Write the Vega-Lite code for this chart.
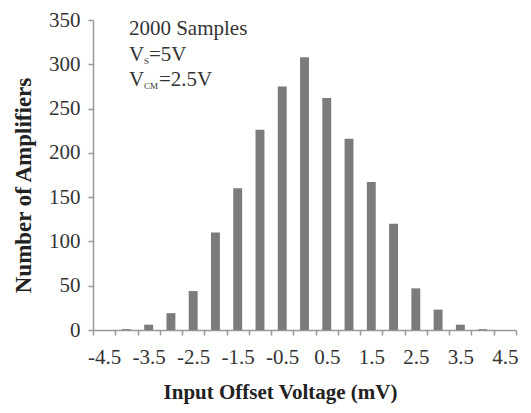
{
  "$schema": "https://vega.github.io/schema/vega-lite/v6.json",
  "width": 423,
  "height": 310,
  "autosize": {"type": "none"},
  "padding": {"left": 93, "top": 20, "right": 15, "bottom": 83},
  "background": "white",
  "config": {"view": {"stroke": null}, "font": "Liberation Serif"},
  "layer": [
    {
      "data": {"values": [
        {"v": -4.5, "n": 0}, {"v": -4, "n": 1}, {"v": -3.5, "n": 6}, {"v": -3, "n": 19},
        {"v": -2.5, "n": 44}, {"v": -2, "n": 110}, {"v": -1.5, "n": 160}, {"v": -1, "n": 226},
        {"v": -0.5, "n": 275}, {"v": 0, "n": 308}, {"v": 0.5, "n": 262}, {"v": 1, "n": 216},
        {"v": 1.5, "n": 167}, {"v": 2, "n": 120}, {"v": 2.5, "n": 47}, {"v": 3, "n": 23},
        {"v": 3.5, "n": 6}, {"v": 4, "n": 1}, {"v": 4.5, "n": 0}
      ]},
      "mark": {"type": "bar", "color": "#7b7b7b", "width": {"band": 0.4}},
      "encoding": {
        "x": {
          "field": "v", "type": "ordinal",
          "scale": {"domain": [-4.5, -4, -3.5, -3, -2.5, -2, -1.5, -1, -0.5, 0, 0.5, 1, 1.5, 2, 2.5, 3, 3.5, 4, 4.5], "paddingInner": 0, "paddingOuter": 0},
          "axis": {
            "title": "Input Offset Voltage (mV)",
            "titleFont": "Liberation Serif", "titleFontSize": 21, "titleFontWeight": "bold", "titleColor": "#222",
            "titleX": 187, "titleY": 68, "titleAlign": "center", "titleBaseline": "alphabetic",
            "labelFont": "Liberation Serif", "labelFontSize": 21, "labelColor": "#333",
            "labelAngle": 0, "labelPadding": 11,
            "labelExpr": "datum.value % 1 != 0 ? datum.label : ''",
            "tickBand": "extent", "tickSize": 5, "tickColor": "#999", "tickWidth": 1.5,
            "domainColor": "#999", "domainWidth": 1.5, "grid": false
          }
        },
        "y": {
          "field": "n", "type": "quantitative",
          "scale": {"domain": [0, 350]},
          "axis": {
            "title": "Number of Amplifiers",
            "titleFont": "Liberation Serif", "titleFontSize": 23, "titleFontWeight": "bold", "titleColor": "#222",
            "titleX": -63, "titleY": 165, "titleAngle": -90, "titleAlign": "center", "titleBaseline": "alphabetic",
            "values": [0, 50, 100, 150, 200, 250, 300, 350],
            "labelFont": "Liberation Serif", "labelFontSize": 21, "labelColor": "#333", "labelPadding": 8,
            "tickSize": 5, "tickColor": "#999", "tickWidth": 1.5,
            "domainColor": "#999", "domainWidth": 1.5, "grid": false
          }
        }
      }
    },
    {
      "data": {"values": [{}]},
      "mark": {"type": "text", "text": "2000 Samples", "align": "left", "baseline": "alphabetic", "fontSize": 21, "dx": 2.5, "color": "#333"},
      "encoding": {"x": {"datum": -4, "type": "ordinal"}, "y": {"datum": 333, "type": "quantitative"}}
    },
    {
      "data": {"values": [{}]},
      "mark": {"type": "text", "text": "V", "align": "left", "baseline": "alphabetic", "fontSize": 21, "dx": 2.5, "color": "#333"},
      "encoding": {"x": {"datum": -4, "type": "ordinal"}, "y": {"datum": 304, "type": "quantitative"}}
    },
    {
      "data": {"values": [{}]},
      "mark": {"type": "text", "text": "S", "align": "left", "baseline": "alphabetic", "fontSize": 9, "dx": 17.5, "dy": 3, "color": "#333"},
      "encoding": {"x": {"datum": -4, "type": "ordinal"}, "y": {"datum": 304, "type": "quantitative"}}
    },
    {
      "data": {"values": [{}]},
      "mark": {"type": "text", "text": "=5V", "align": "left", "baseline": "alphabetic", "fontSize": 21, "dx": 22.5, "color": "#333"},
      "encoding": {"x": {"datum": -4, "type": "ordinal"}, "y": {"datum": 304, "type": "quantitative"}}
    },
    {
      "data": {"values": [{}]},
      "mark": {"type": "text", "text": "V", "align": "left", "baseline": "alphabetic", "fontSize": 21, "dx": 2.5, "color": "#333"},
      "encoding": {"x": {"datum": -4, "type": "ordinal"}, "y": {"datum": 275.5, "type": "quantitative"}}
    },
    {
      "data": {"values": [{}]},
      "mark": {"type": "text", "text": "CM", "align": "left", "baseline": "alphabetic", "fontSize": 9, "dx": 17.5, "dy": 3, "color": "#333"},
      "encoding": {"x": {"datum": -4, "type": "ordinal"}, "y": {"datum": 275.5, "type": "quantitative"}}
    },
    {
      "data": {"values": [{}]},
      "mark": {"type": "text", "text": "=2.5V", "align": "left", "baseline": "alphabetic", "fontSize": 21, "dx": 32.5, "color": "#333"},
      "encoding": {"x": {"datum": -4, "type": "ordinal"}, "y": {"datum": 275.5, "type": "quantitative"}}
    }
  ]
}
